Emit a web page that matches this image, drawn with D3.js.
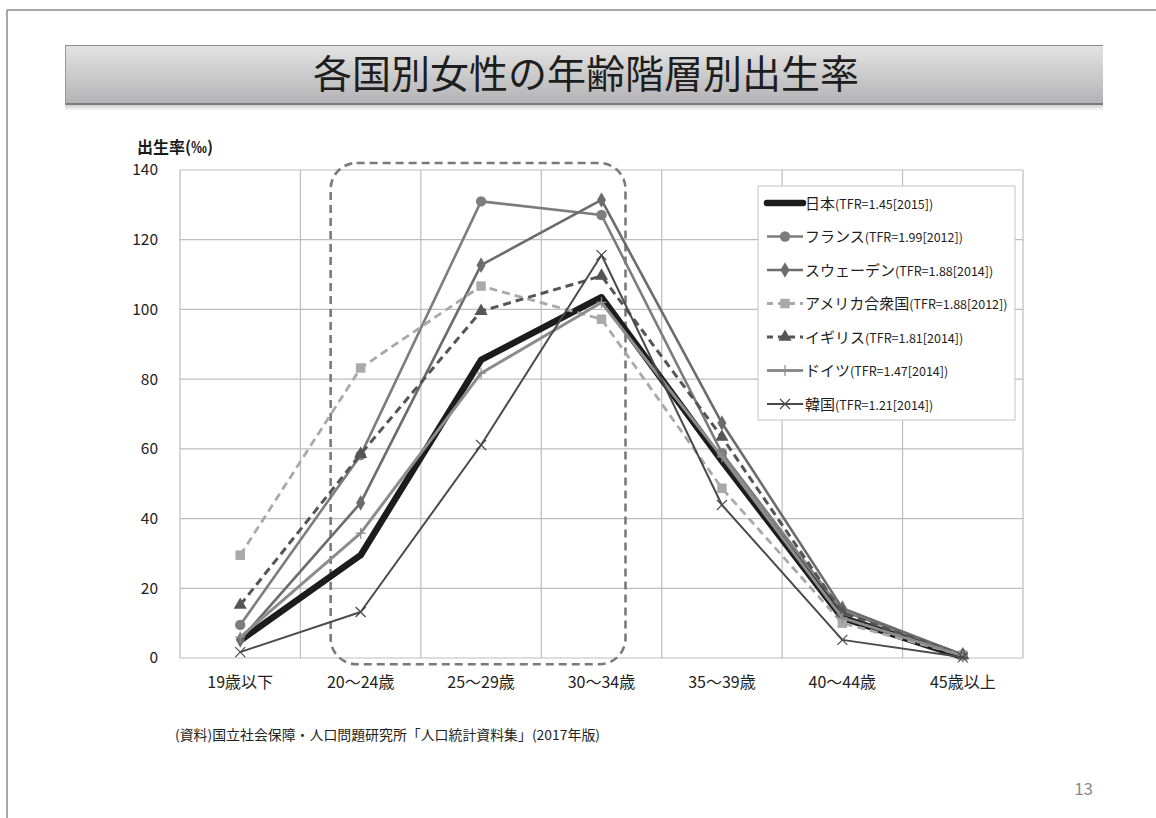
<!DOCTYPE html>
<html>
<head>
<meta charset="utf-8">
<script src="https://cdn.jsdelivr.net/npm/d3@7"></script>
<style>
  body { margin: 0; background: #fff; }
  svg { display: block; font-family: "Noto Sans CJK JP", "Noto Sans", sans-serif; }
</style>
</head>
<body>
<svg id="chart" width="1156" height="818"></svg>
<script>
// Age groups (x categories)
const ageGroups = ["19歳以下", "20～24歳", "25～29歳", "30～34歳", "35～39歳", "40～44歳", "45歳以上"];

// Age-specific fertility rates (per 1,000 women)
const japan   = [5.0, 29.5, 85.5, 103.5, 56.5, 11.5, 0.3];
const france  = [9.5, 58.2, 131.0, 127.1, 58.8, 13.5, 1.0];
const sweden  = [5.2, 44.5, 112.7, 131.4, 67.4, 14.3, 0.9];
const usa     = [29.5, 83.2, 106.7, 97.2, 48.7, 10.0, 0.8];
const uk      = [15.2, 58.5, 99.5, 109.6, 63.4, 13.0, 0.7];
const germany = [6.0, 35.8, 81.7, 102.0, 57.7, 11.5, 0.6];
const korea   = [1.7, 13.2, 61.1, 115.6, 43.9, 5.2, 0.2];

const seriesNames = [
  "日本(TFR=1.45[2015])",
  "フランス(TFR=1.99[2012])",
  "スウェーデン(TFR=1.88[2014])",
  "アメリカ合衆国(TFR=1.88[2012])",
  "イギリス(TFR=1.81[2014])",
  "ドイツ(TFR=1.47[2014])",
  "韓国(TFR=1.21[2014])"
];

const yTicks = [0, 20, 40, 60, 80, 100, 120, 140];

const titleText = "各国別女性の年齢階層別出生率";
const yAxisTitle = "出生率(‰)";
const sourceText = "(資料)国立社会保障・人口問題研究所「人口統計資料集」(2017年版)";
const pageNumber = "13";

// Visual styles per series
const styles = [
  { color: "#1c1c1c", width: 6.5, dash: null,  marker: "none" },
  { color: "#7d7d7d", width: 2.6, dash: null,  marker: "circle" },
  { color: "#6c6c6c", width: 2.6, dash: null,  marker: "diamond" },
  { color: "#a9a9a9", width: 2.8, dash: "8,5", marker: "square" },
  { color: "#555555", width: 3.0, dash: "8,5", marker: "triangle" },
  { color: "#8c8c8c", width: 3.0, dash: null,  marker: "plus" },
  { color: "#4a4a4a", width: 2.0, dash: null,  marker: "cross" }
];

const allSeries = [japan, france, sweden, usa, uk, germany, korea].map((values, i) => ({
  name: seriesNames[i], values, ...styles[i]
}));

const svg = d3.select("#chart");
const W = 1156, H = 818;

// Slide frame (top and left edge)
svg.append("line").attr("x1", 7).attr("y1", 10).attr("x2", W).attr("y2", 10)
  .attr("stroke", "#8a8a8a").attr("stroke-width", 1.5);
svg.append("line").attr("x1", 7).attr("y1", 10).attr("x2", 7).attr("y2", H)
  .attr("stroke", "#8a8a8a").attr("stroke-width", 1.5);

// Title banner
const defs = svg.append("defs");
const grad = defs.append("linearGradient").attr("id", "banner").attr("x1", 0).attr("y1", 0).attr("x2", 0).attr("y2", 1);
grad.append("stop").attr("offset", "0%").attr("stop-color", "#e4e4e4");
grad.append("stop").attr("offset", "100%").attr("stop-color", "#b2b2b4");
const shadow = defs.append("linearGradient").attr("id", "bannerShadow").attr("x1", 0).attr("y1", 0).attr("x2", 0).attr("y2", 1);
shadow.append("stop").attr("offset", "0%").attr("stop-color", "#cfcfcf");
shadow.append("stop").attr("offset", "100%").attr("stop-color", "#ffffff");

const bx = 65, by = 45, bw = 1038, bh = 60;
svg.append("rect").attr("x", bx).attr("y", by + bh).attr("width", bw).attr("height", 6).attr("fill", "url(#bannerShadow)");
svg.append("rect").attr("x", bx).attr("y", by).attr("width", bw).attr("height", bh).attr("fill", "url(#banner)");
svg.append("line").attr("x1", bx).attr("x2", bx + bw).attr("y1", by + 0.5).attr("y2", by + 0.5).attr("stroke", "#8c8c8c").attr("stroke-width", 1);
svg.append("line").attr("x1", bx).attr("x2", bx + bw).attr("y1", by + bh - 1).attr("y2", by + bh - 1).attr("stroke", "#7c7c7c").attr("stroke-width", 2);
svg.append("line").attr("x1", bx + 0.5).attr("x2", bx + 0.5).attr("y1", by).attr("y2", by + bh).attr("stroke", "#9a9a9a").attr("stroke-width", 1);
svg.append("text").attr("x", bx + bw / 2 + 2).attr("y", by + 43)
  .attr("text-anchor", "middle").attr("font-size", 39).attr("fill", "#1e1e1e")
  .text(titleText);

// Plot area
const plot = { left: 180, right: 1023, top: 170, bottom: 658 };

const x = d3.scaleBand().domain(ageGroups).range([plot.left, plot.right]).padding(0);
const xc = d => x(d) + x.bandwidth() / 2;
const y = d3.scaleLinear().domain([0, 140]).range([plot.bottom, plot.top]);

// Gridlines
const grid = svg.append("g").attr("stroke", "#bdbdbd").attr("stroke-width", 1.2);
yTicks.forEach(t => {
  grid.append("line").attr("x1", plot.left).attr("x2", plot.right).attr("y1", y(t)).attr("y2", y(t));
});
ageGroups.forEach(a => {
  grid.append("line").attr("x1", x(a)).attr("x2", x(a)).attr("y1", plot.top).attr("y2", plot.bottom);
});
grid.append("line").attr("x1", plot.right).attr("x2", plot.right).attr("y1", plot.top).attr("y2", plot.bottom);

// Y axis (labels only)
const yAxis = d3.axisLeft(y).tickValues(yTicks).tickSize(0).tickPadding(22);
const yg = svg.append("g").attr("transform", `translate(${plot.left},0)`).call(yAxis);
yg.select(".domain").remove();
yg.selectAll("text").attr("font-size", 15.5).attr("fill", "#222").attr("font-family", "'Noto Sans CJK JP', sans-serif");

// X axis (labels only)
const xAxis = d3.axisBottom(x).tickSize(0).tickPadding(19);
const xg = svg.append("g").attr("transform", `translate(0,${plot.bottom})`).call(xAxis);
xg.select(".domain").remove();
xg.selectAll("text").attr("font-size", 16).attr("fill", "#222").attr("font-family", "'Noto Sans CJK JP', sans-serif");

// Y axis title
svg.append("text").attr("x", 137).attr("y", 153).attr("font-size", 16).attr("font-weight", "bold")
  .attr("fill", "#1a1a1a").text(yAxisTitle);

// Dashed highlight around the 20-34 age range
const hlLeft = xc("20～24歳") - 30, hlRight = xc("30～34歳") + 24;
svg.append("rect")
  .attr("x", hlLeft).attr("y", y(142)).attr("width", hlRight - hlLeft).attr("height", y(-1.8) - y(142))
  .attr("rx", 26).attr("ry", 26)
  .attr("fill", "none").attr("stroke", "#7a7a7a").attr("stroke-width", 2.6).attr("stroke-dasharray", "8,5");

// Marker drawing helper
function drawMarker(g, type, color) {
  if (type === "circle") {
    g.append("circle").attr("r", 5.2).attr("fill", color);
  } else if (type === "diamond") {
    g.append("path").attr("d", d3.symbol(d3.symbolDiamond, 70)()).attr("fill", color);
  } else if (type === "square") {
    g.append("path").attr("d", d3.symbol(d3.symbolSquare, 90)()).attr("fill", color);
  } else if (type === "triangle") {
    g.append("path").attr("d", d3.symbol(d3.symbolTriangle, 75)()).attr("fill", color);
  } else if (type === "plus") {
    g.append("path").attr("d", "M-5,0H5M0,-5.5V5.5").attr("stroke", color).attr("stroke-width", 1.2).attr("fill", "none");
  } else if (type === "cross") {
    g.append("path").attr("d", "M-5,-5L5,5M-5,5L5,-5").attr("stroke", color).attr("stroke-width", 1.2).attr("fill", "none");
  }
}

// Series lines and markers
const line = d3.line().x((d, i) => xc(ageGroups[i])).y(d => y(d));
allSeries.forEach(s => {
  const g = svg.append("g");
  g.append("path").datum(s.values)
    .attr("d", line)
    .attr("fill", "none")
    .attr("stroke", s.color)
    .attr("stroke-width", s.width)
    .attr("stroke-linejoin", "round")
    .attr("stroke-dasharray", s.dash);
  s.values.forEach((v, i) => {
    const m = g.append("g").attr("transform", `translate(${xc(ageGroups[i])},${y(v)})`);
    drawMarker(m, s.marker, s.color);
  });
});

// Legend
const lg = svg.append("g").attr("transform", "translate(758,186)");
lg.append("rect").attr("width", 257).attr("height", 234).attr("fill", "#fff").attr("stroke", "#c4c4c4").attr("stroke-width", 1);
allSeries.forEach((s, i) => {
  const ly = 17 + i * 33.5;
  const item = lg.append("g").attr("transform", `translate(0,${ly})`);
  item.append("line").attr("x1", 9).attr("x2", 45).attr("y1", 0).attr("y2", 0)
    .attr("stroke", s.color).attr("stroke-width", s.width)
    .attr("stroke-dasharray", s.dash ? "6,5" : null)
    .attr("stroke-linecap", s.marker === "none" ? "round" : "butt");
  const m = item.append("g").attr("transform", "translate(27,0)");
  drawMarker(m, s.marker, s.color);
  const paren = s.name.indexOf("(");
  const t = item.append("text").attr("x", 47).attr("y", 5.5).attr("fill", "#1e1e1e").attr("font-size", 15);
  t.append("tspan").text(s.name.slice(0, paren));
  t.append("tspan").attr("font-size", 12.5).text(s.name.slice(paren));
});

// Source note
svg.append("text").attr("x", 175).attr("y", 740).attr("font-size", 13.5).attr("fill", "#222")
  .attr("textLength", 425).attr("lengthAdjust", "spacingAndGlyphs")
  .text(sourceText);

// Page number
svg.append("text").attr("x", 1093).attr("y", 795).attr("text-anchor", "end")
  .attr("font-size", 17).attr("fill", "#8a8a8a").text(pageNumber);
</script>
</body>
</html>
